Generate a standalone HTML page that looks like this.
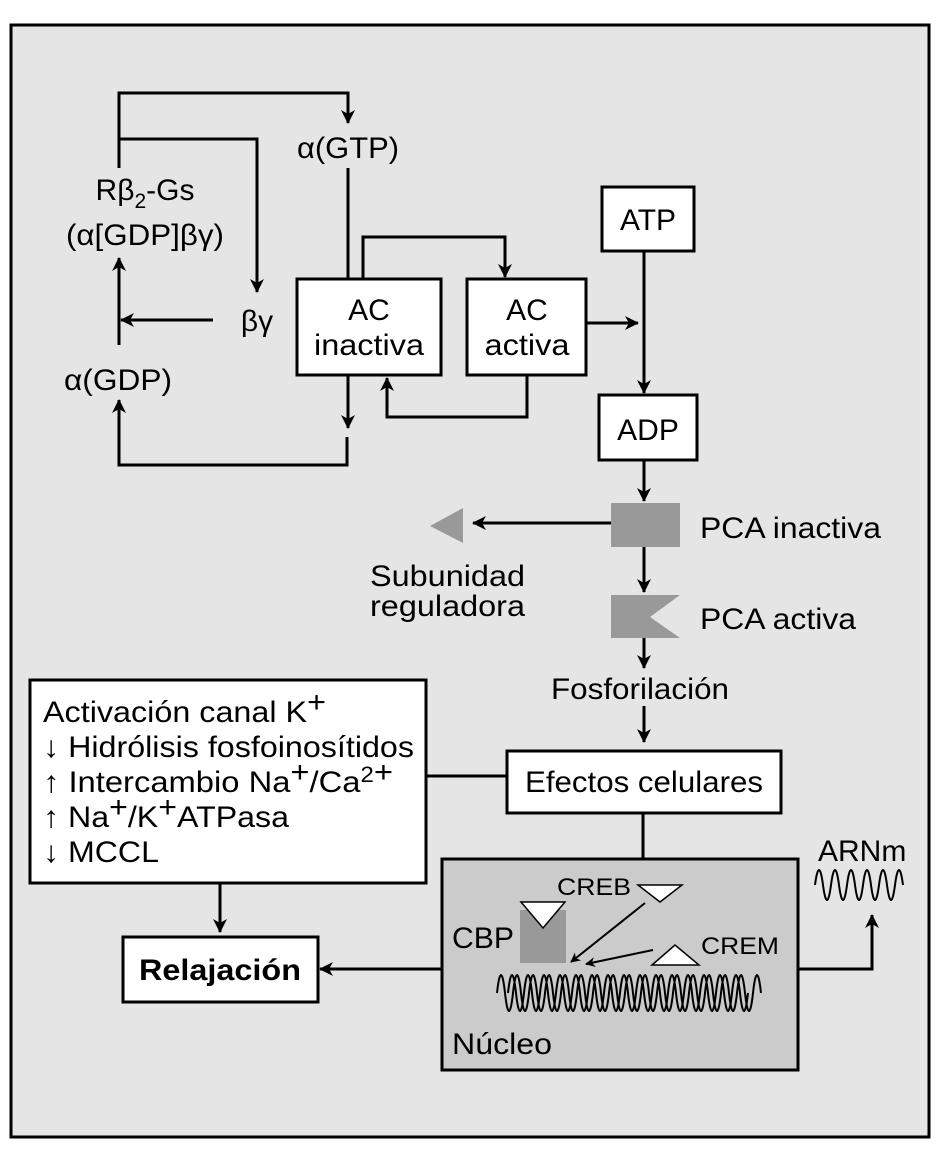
<!DOCTYPE html>
<html><head><meta charset="utf-8"><style>html,body{margin:0;padding:0;background:#fff}svg{display:block}text{font-family:"Liberation Sans",Arial,sans-serif;fill:#000}</style></head><body>
<svg width="941" height="1152" viewBox="0 0 941 1152" xmlns="http://www.w3.org/2000/svg">
<defs>
<marker id="a" markerWidth="10" markerHeight="10" refX="9" refY="5" orient="auto" markerUnits="userSpaceOnUse"><path d="M0,0 L10,5 L0,10 L3,5 z" fill="#000"/></marker>
<marker id="b" markerWidth="14" markerHeight="14" refX="13" refY="7" orient="auto" markerUnits="userSpaceOnUse"><path d="M0,0 L14,7 L0,14 L4,7 z" fill="#000"/></marker>
</defs>
<rect x="11" y="25" width="918" height="1112" fill="#e5e5e5" stroke="#000" stroke-width="3"/>
<g fill="none" stroke="#000" stroke-width="3">
<polyline points="119,168 119,93 348,93 348,123" marker-end="url(#b)"/>
<polyline points="119,139 257,139 257,292" marker-end="url(#b)"/>
<line x1="348" y1="168" x2="348" y2="279"/>
<line x1="119" y1="345" x2="119" y2="258" marker-end="url(#b)"/>
<line x1="213" y1="320" x2="121" y2="320" marker-end="url(#b)"/>
<polyline points="347,437 347,465 119,465 119,400" marker-end="url(#b)"/>
<line x1="348" y1="375" x2="348" y2="428" marker-end="url(#b)"/>
<polyline points="363,279 363,237 505,237 505,277" marker-end="url(#b)"/>
<polyline points="527,375 527,417 387,417 387,378" marker-end="url(#b)"/>
<line x1="586" y1="323" x2="638" y2="323" marker-end="url(#b)"/>
<line x1="644" y1="251" x2="644" y2="393" marker-end="url(#b)"/>
<line x1="644" y1="460" x2="644" y2="501" marker-end="url(#b)"/>
<line x1="611" y1="523" x2="473" y2="523" marker-end="url(#b)"/>
<line x1="644" y1="547" x2="644" y2="592" marker-end="url(#b)"/>
<line x1="644" y1="638" x2="644" y2="668" marker-end="url(#b)"/>
<line x1="644" y1="706" x2="644" y2="742" marker-end="url(#b)"/>
<line x1="426" y1="776" x2="507" y2="776"/>
<line x1="643" y1="813" x2="643" y2="859"/>
<line x1="220" y1="883" x2="220" y2="932" marker-end="url(#b)"/>
<line x1="442" y1="969" x2="320" y2="969" marker-end="url(#b)"/>
<polyline points="798,969 872,969 872,915" marker-end="url(#b)"/>
</g>
<g fill="#fff" stroke="#000" stroke-width="3">
<rect x="297" y="279" width="144" height="96"/>
<rect x="467" y="279" width="119" height="96"/>
<rect x="602" y="187" width="92" height="64"/>
<rect x="599" y="395" width="98" height="65"/>
<rect x="507" y="751" width="274" height="62"/>
<rect x="30" y="680" width="396" height="203"/>
<rect x="123" y="937" width="195" height="65"/>
</g>
<rect x="442" y="859" width="356" height="211" fill="#cbcbcb" stroke="#000" stroke-width="3"/>
<rect x="611" y="503" width="69" height="44" fill="#999"/>
<polygon points="463,508 463,543 430,526" fill="#999"/>
<polygon points="611,595 680,595 650,617 680,638 611,638" fill="#999"/>
<g font-size="30" text-anchor="middle">
<text x="348" y="158" textLength="102" lengthAdjust="spacingAndGlyphs">α(GTP)</text>
<text x="145" y="200">Rβ<tspan font-size="21" dy="8">2</tspan><tspan dy="-8">-Gs</tspan></text>
<text x="145" y="245" textLength="158" lengthAdjust="spacingAndGlyphs">(α[GDP]βγ)</text>
<text x="257" y="331">βγ</text>
<text x="118" y="390" textLength="108" lengthAdjust="spacingAndGlyphs">α(GDP)</text>
<text x="369" y="320">AC</text><text x="369" y="355" textLength="110" lengthAdjust="spacingAndGlyphs">inactiva</text>
<text x="527" y="320">AC</text><text x="527" y="355" textLength="85" lengthAdjust="spacingAndGlyphs">activa</text>
<text x="648" y="230">ATP</text>
<text x="648" y="440">ADP</text>
<text x="640" y="699" textLength="178" lengthAdjust="spacingAndGlyphs">Fosforilación</text>
<text x="644" y="792" textLength="238" lengthAdjust="spacingAndGlyphs">Efectos celulares</text>
<text x="220" y="980" font-weight="bold" textLength="162" lengthAdjust="spacingAndGlyphs">Relajación</text>
</g>
<g font-size="30">
<text x="700" y="538" textLength="181" lengthAdjust="spacingAndGlyphs">PCA inactiva</text>
<text x="700" y="629" textLength="156" lengthAdjust="spacingAndGlyphs">PCA activa</text>
<text x="370" y="586" textLength="155" lengthAdjust="spacingAndGlyphs">Subunidad</text>
<text x="370" y="616" textLength="155" lengthAdjust="spacingAndGlyphs">reguladora</text>
<text x="818" y="861">ARNm</text>
<text x="452" y="948" textLength="62" lengthAdjust="spacingAndGlyphs">CBP</text>
<text x="452" y="1054" textLength="100" lengthAdjust="spacingAndGlyphs">Núcleo</text>
</g>
<g font-size="30">
<text x="43" y="722" textLength="283" lengthAdjust="spacingAndGlyphs">Activación canal K<tspan dy="-10">+</tspan></text>
<text x="43" y="757" textLength="371" lengthAdjust="spacingAndGlyphs">↓ Hidrólisis fosfoinosítidos</text>
<text x="43" y="792" textLength="350" lengthAdjust="spacingAndGlyphs">↑ Intercambio Na<tspan dy="-10">+</tspan><tspan dy="10">/Ca</tspan><tspan font-size="22" dy="-10">2</tspan><tspan>+</tspan></text>
<text x="43" y="827" textLength="246" lengthAdjust="spacingAndGlyphs">↑ Na<tspan dy="-10">+</tspan><tspan dy="10">/K</tspan><tspan dy="-10">+</tspan><tspan dy="10">ATPasa</tspan></text>
<text x="43" y="862" textLength="116" lengthAdjust="spacingAndGlyphs">↓ MCCL</text>
</g>
<g font-size="24">
<text x="557" y="895" textLength="74" lengthAdjust="spacingAndGlyphs">CREB</text>
<text x="701" y="954" textLength="78" lengthAdjust="spacingAndGlyphs">CREM</text>
</g>
<rect x="520" y="910" width="46" height="53" fill="#999"/>
<polygon points="521,902 565,902 543,928" fill="#fff" stroke="#000" stroke-width="1.5"/>
<polygon points="638,885 682,885 660,902" fill="#fff" stroke="#000" stroke-width="1.5"/>
<polygon points="652,965 699,965 675,945" fill="#fff" stroke="#000" stroke-width="1.5"/>
<g stroke="#000" stroke-width="2" fill="none">
<line x1="645" y1="903" x2="571" y2="962" marker-end="url(#a)"/>
<line x1="653" y1="950" x2="586" y2="964" marker-end="url(#a)"/>
<path d="M815,885 q4,-30 8,0 t8,0 t8,0 t8,0 t8,0 t8,0 t8,0 t8,0 t8,0 t8,0 t8,0"/>
<path d="M497,993 q4,-36 8,0 t8,0 t8,0 t8,0 t8,0 t8,0 t8,0 t8,0 t8,0 t8,0 t8,0 t8,0 t8,0 t8,0 t8,0 t8,0 t8,0 t8,0 t8,0 t8,0 t8,0 t8,0 t8,0 t8,0 t8,0 t8,0 t8,0 t8,0 t8,0 t8,0 t8,0 t8,0 t8,0"/>
<path d="M508,993 q4,-36 8,0 t8,0 t8,0 t8,0 t8,0 t8,0 t8,0 t8,0 t8,0 t8,0 t8,0 t8,0 t8,0 t8,0 t8,0 t8,0 t8,0 t8,0 t8,0 t8,0 t8,0 t8,0 t8,0 t8,0 t8,0 t8,0 t8,0 t8,0 t8,0 t8,0"/>
</g>
</svg>
</body></html>
